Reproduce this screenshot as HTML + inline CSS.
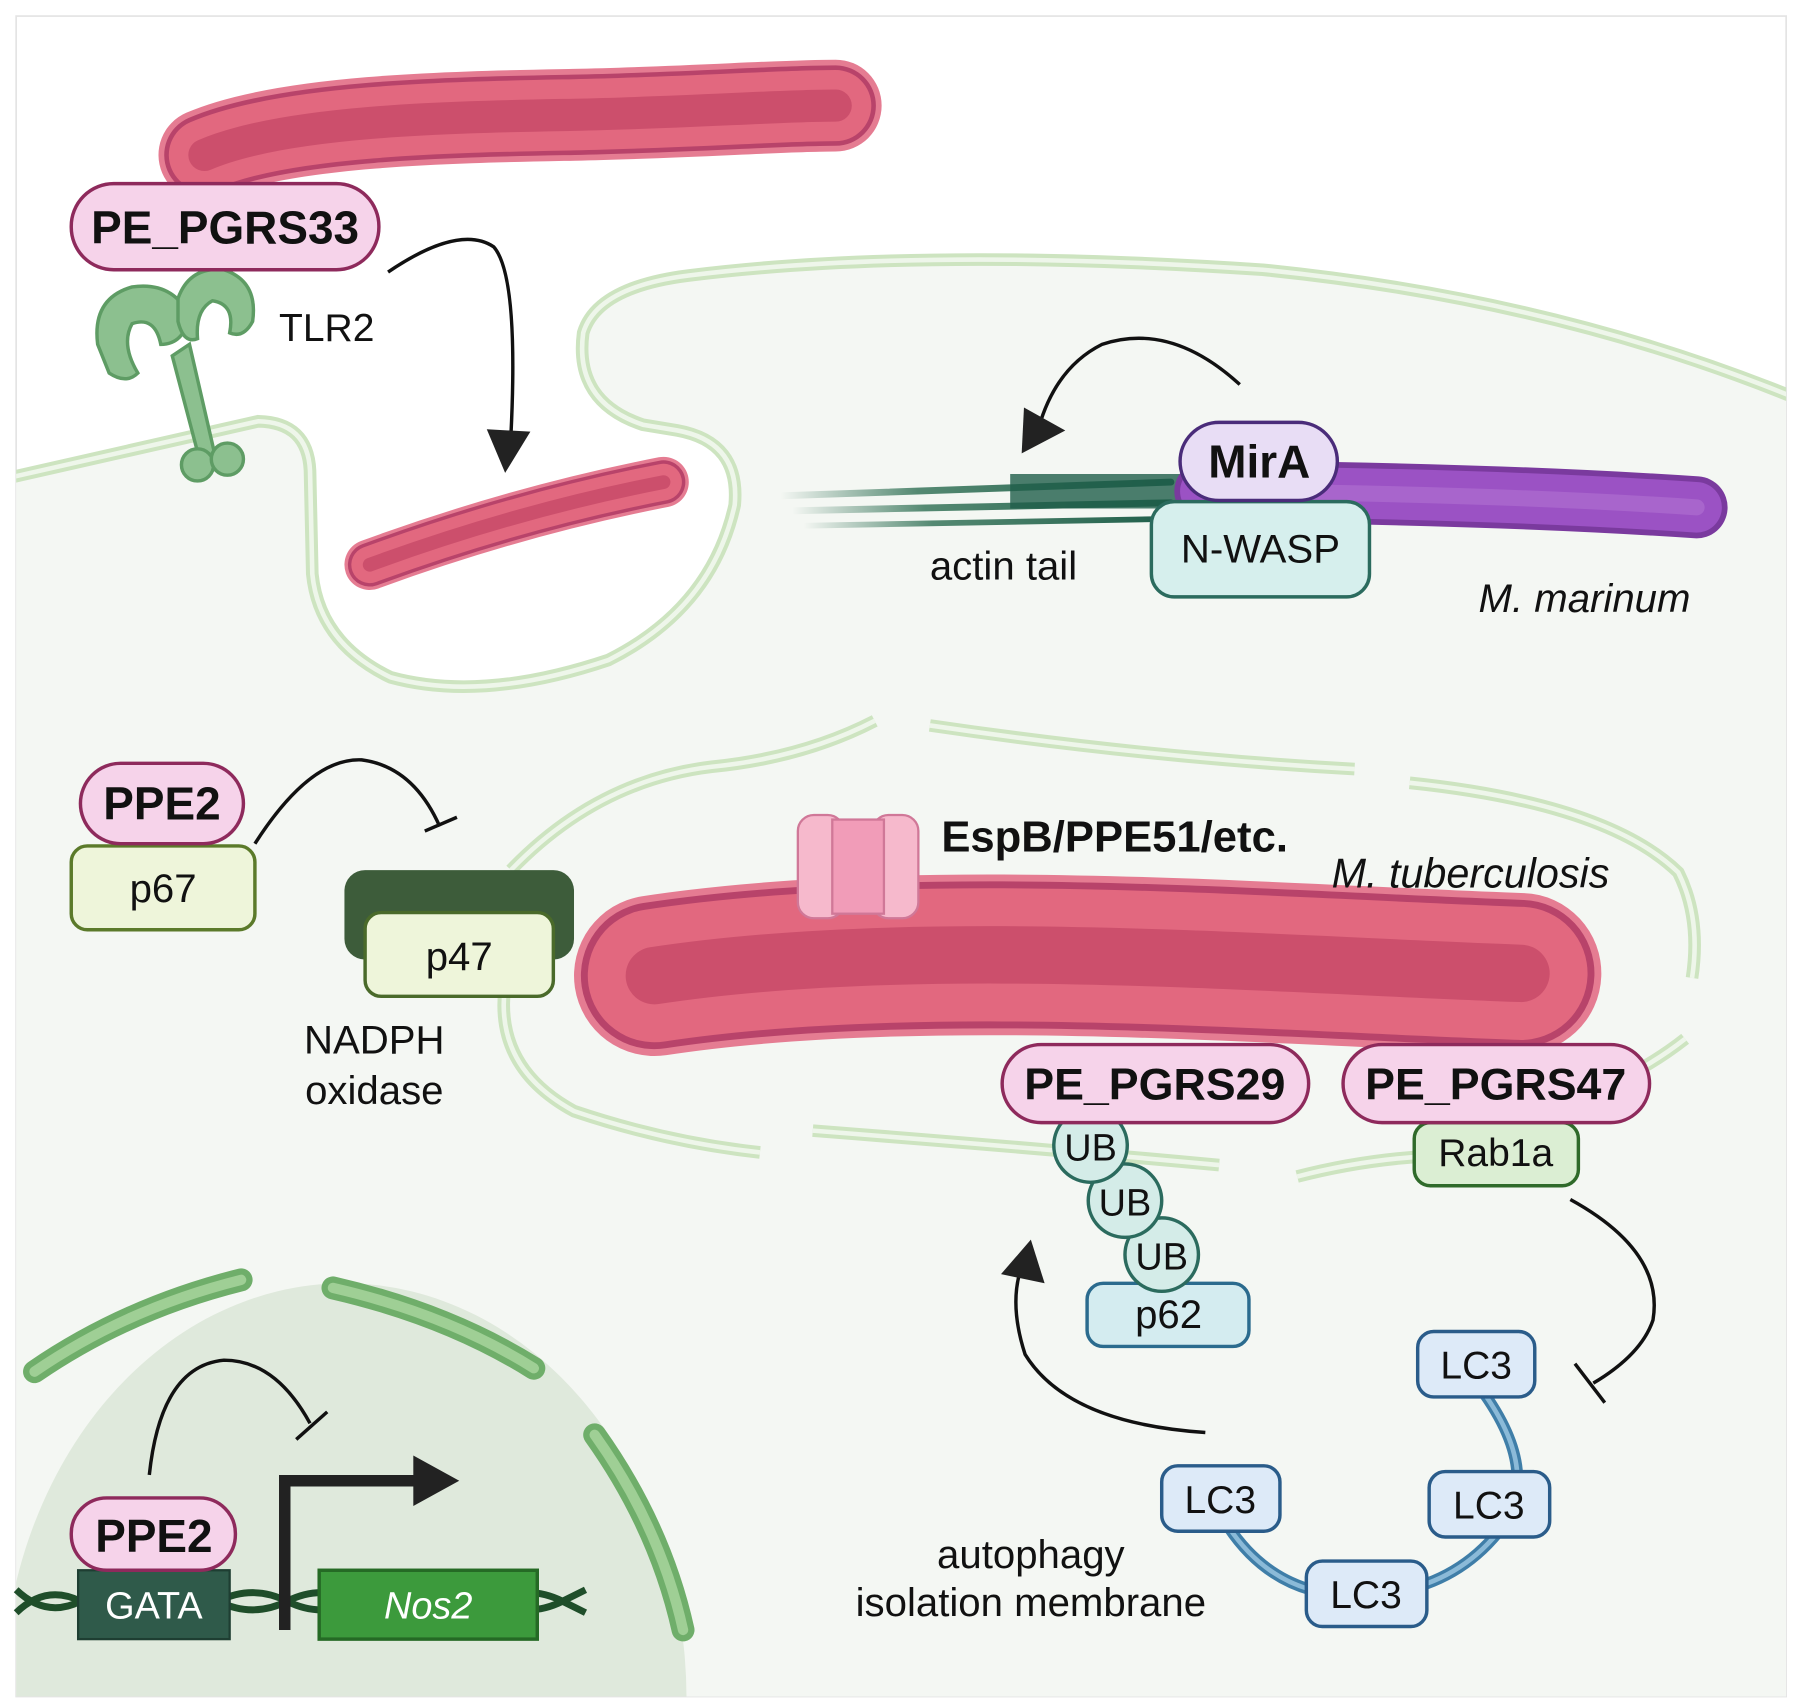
<!DOCTYPE html>
<html><head><meta charset="utf-8"><style>
html,body{margin:0;padding:0;background:#fff;overflow:hidden;width:1800px;height:1708px;}
svg{display:block;}
text{font-family:"Liberation Sans",Arial,sans-serif;}
</style></head><body>
<svg width="1800" height="1708" viewBox="0 0 1568 1488" xmlns="http://www.w3.org/2000/svg">
<defs>
<clipPath id="frame"><rect x="14" y="14" width="1542" height="1464"/></clipPath>
<linearGradient id="actin" x1="0" x2="1" y1="0" y2="0">
<stop offset="0" stop-color="#2d6e52" stop-opacity="0"/>
<stop offset="0.35" stop-color="#2d6e52" stop-opacity="0.8"/>
<stop offset="1" stop-color="#1f5e4a"/>
</linearGradient>
</defs>
<rect x="0" y="0" width="1568" height="1488" fill="#fff"/>
<rect x="14" y="14" width="1542" height="1464" fill="#fff" stroke="#e4e4e4" stroke-width="1.5"/>
<g clip-path="url(#frame)">
<path d="M0,418 L225,367 Q268,368 270,410 L272,500 Q278,560 340,590 Q420,612 530,575 Q620,530 640,440 Q645,385 590,375 L560,370 Q500,350 508,290 Q520,250 600,240 Q800,215 1100,235 Q1350,260 1560,345 L1568,1488 L0,1488 Z" fill="#f4f7f3"/>
<path d="M0,418 L225,367 Q268,368 270,410 L272,500 Q278,560 340,590 Q420,612 530,575 Q620,530 640,440 Q645,385 590,375 L560,370 Q500,350 508,290 Q520,250 600,240 Q800,215 1100,235 Q1350,260 1560,345" fill="none" stroke="#cde4c0" stroke-width="11"/>
<path d="M0,418 L225,367 Q268,368 270,410 L272,500 Q278,560 340,590 Q420,612 530,575 Q620,530 640,440 Q645,385 590,375 L560,370 Q500,350 508,290 Q520,250 600,240 Q800,215 1100,235 Q1350,260 1560,345" fill="none" stroke="#eef6ea" stroke-width="4"/>

<ellipse cx="300" cy="1480" rx="298" ry="362" fill="#dfe9dc"/>
<g fill="none" stroke-linecap="round">
<path d="M30,1195 Q110,1140 210,1115" stroke="#6fae6a" stroke-width="20"/>
<path d="M30,1195 Q110,1140 210,1115" stroke="#9fcf95" stroke-width="9"/>
<path d="M290,1122 Q390,1145 465,1192" stroke="#6fae6a" stroke-width="20"/>
<path d="M290,1122 Q390,1145 465,1192" stroke="#9fcf95" stroke-width="9"/>
<path d="M518,1250 Q575,1330 595,1420" stroke="#6fae6a" stroke-width="20"/>
<path d="M518,1250 Q575,1330 595,1420" stroke="#9fcf95" stroke-width="9"/>
</g>
</g>

<g fill="none" stroke-linecap="butt">
<g stroke="#cde4c0" stroke-width="11">
<path d="M445,758 Q520,680 620,668 Q700,660 762,628"/>
<path d="M810,632 Q1000,660 1180,670"/>
<path d="M1228,682 Q1400,700 1462,760 Q1482,800 1474,852"/>
<path d="M1468,905 Q1430,935 1378,955"/>
<path d="M1130,1025 Q1180,1012 1232,1008"/>
<path d="M708,985 Q900,1000 1062,1015"/>
<path d="M440,858 Q430,930 500,968 Q580,995 662,1004"/>
</g>
<g stroke="#eef6ea" stroke-width="4">
<path d="M445,758 Q520,680 620,668 Q700,660 762,628"/>
<path d="M810,632 Q1000,660 1180,670"/>
<path d="M1228,682 Q1400,700 1462,760 Q1482,800 1474,852"/>
<path d="M1468,905 Q1430,935 1378,955"/>
<path d="M1130,1025 Q1180,1012 1232,1008"/>
<path d="M708,985 Q900,1000 1062,1015"/>
<path d="M440,858 Q430,930 500,968 Q580,995 662,1004"/>
</g>
</g>

<g fill="none" stroke-linecap="round">
<path d="M178,135 C250,104 400,102 500,100 S680,92 728,92" stroke="#e57c92" stroke-width="80"/>
<path d="M178,135 C250,104 400,102 500,100 S680,92 728,92" stroke="#b8436a" stroke-width="70"/>
<path d="M178,135 C250,104 400,102 500,100 S680,92 728,92" stroke="#e2687f" stroke-width="62"/>
<path d="M178,135 C250,104 400,102 500,100 S680,92 728,92" stroke="#cc4f6c" stroke-width="28"/>

<path d="M322,492 Q450,445 578,420" stroke="#e57c92" stroke-width="44"/>
<path d="M322,492 Q450,445 578,420" stroke="#b8436a" stroke-width="38"/>
<path d="M322,492 Q450,445 578,420" stroke="#e2687f" stroke-width="32"/>
<path d="M322,492 Q450,445 578,420" stroke="#cc4f6c" stroke-width="12"/>

<path d="M570,850 C800,815 1100,840 1325,848" stroke="#e57c92" stroke-width="140"/>
<path d="M570,850 C800,815 1100,840 1325,848" stroke="#b8436a" stroke-width="128"/>
<path d="M570,850 C800,815 1100,840 1325,848" stroke="#e2687f" stroke-width="116"/>
<path d="M570,850 C800,815 1100,840 1325,848" stroke="#cc4f6c" stroke-width="50"/>

<path d="M680,432 L1020,420" stroke="url(#actin)" stroke-width="6"/>
<path d="M690,445 L1020,438" stroke="url(#actin)" stroke-width="6"/>
<path d="M700,458 L1020,452" stroke="url(#actin)" stroke-width="5"/>
<path d="M730,412 L1020,412" stroke="url(#actin)" stroke-width="4"/>
<path d="M880,428 L1030,428" stroke="#1f5e4a" stroke-width="30" stroke-opacity="0.8" stroke-linecap="butt"/>

<path d="M1050,428 Q1300,430 1478,442" stroke="#7a3a9e" stroke-width="54"/>
<path d="M1050,428 Q1300,430 1478,442" stroke="#9b52c4" stroke-width="44"/>
<path d="M1050,428 Q1300,430 1478,442" stroke="#a865cc" stroke-width="14"/>
</g>

<g stroke="#d07898" stroke-width="2" fill="#f6b9cc">
<rect x="695" y="710" width="40" height="90" rx="14"/>
<rect x="760" y="710" width="40" height="90" rx="14"/>
<rect x="725" y="714" width="45" height="82" fill="#f19cb8"/>
</g>

<g fill="#8cc08f" stroke="#5e9c64" stroke-width="3">
<path d="M85,300 Q80,260 115,250 Q150,245 165,275 Q160,300 140,300 Q135,275 115,282 Q105,300 120,325 Q110,335 95,325 Z"/>
<path d="M155,260 Q165,232 195,235 Q225,245 220,280 Q212,295 200,290 Q205,265 185,262 Q170,270 172,295 Q160,300 155,280 Z"/>
<path d="M165,300 L188,400 L175,405 L150,310 Z"/>
<circle cx="172" cy="405" r="14"/><circle cx="198" cy="400" r="14"/>
</g>

<g fill="none" stroke="#1f4e2a" stroke-width="6">
<path d="M14,1385 Q40,1410 70,1395 T130,1395 T190,1395 T250,1395 T310,1395 T370,1395 T430,1395 T490,1395 L510,1405"/>
<path d="M14,1405 Q40,1380 70,1395 T130,1395 T190,1395 T250,1395 T310,1395 T370,1395 T430,1395 T490,1395 L510,1385"/>
</g>
<rect x="68" y="1368" width="132" height="60" fill="#2f5a4a" stroke="#1e3e32" stroke-width="2"/>
<text x="134" y="1410" font-size="33" fill="#fff" text-anchor="middle">GATA</text>
<rect x="278" y="1368" width="190" height="60" fill="#3c9a3c" stroke="#256a25" stroke-width="3"/>
<text x="373" y="1410" font-size="33" fill="#fff" text-anchor="middle" font-style="italic">Nos2</text>
<path d="M248,1420 L248,1290 L365,1290" fill="none" stroke="#222" stroke-width="10"/>
<path d="M360,1268 L400,1290 L360,1312 Z" fill="#222"/>

<g fill="none" stroke="#111" stroke-width="3">
<path d="M338,237 Q400,195 430,215 Q452,240 445,380"/>
<path d="M1080,335 Q1020,280 960,300 Q920,320 905,372"/>
<path d="M222,735 Q270,660 315,662 Q360,668 383,720"/>
<path d="M370,724 L398,712"/>
<path d="M1050,1248 Q930,1240 893,1180 Q880,1140 888,1110"/>
<path d="M1368,1045 Q1450,1090 1440,1150 Q1430,1180 1388,1205"/>
<path d="M1372,1188 L1398,1222"/>
<path d="M130,1285 Q140,1190 195,1185 Q240,1185 270,1240"/>
<path d="M258,1254 L285,1230"/>
</g>
<path d="M424,374 L462,376 L440,412 Z" fill="#222"/>
<path d="M890,395 L892,355 L928,375 Z" fill="#222"/>
<path d="M872,1110 L898,1080 L910,1118 Z" fill="#222"/>

<rect x="300" y="758" width="200" height="78" rx="18" fill="#3d5c3a"/>
<rect x="318" y="795" width="164" height="73" rx="14" fill="#eef5da" stroke="#4a6a2a" stroke-width="3"/>
<text x="400" y="845" font-size="35" text-anchor="middle" fill="#111">p47</text>
<text x="326" y="918" font-size="35" text-anchor="middle" fill="#111">NADPH</text>
<text x="326" y="962" font-size="35" text-anchor="middle" fill="#111">oxidase</text>

<rect x="62" y="737" width="160" height="73" rx="14" fill="#eef5da" stroke="#5b7a2a" stroke-width="3"/>
<text x="142" y="786" font-size="35" text-anchor="middle" fill="#111">p67</text>
<rect x="70" y="665" width="142" height="70" rx="35" fill="#f6d3ea" stroke="#8e2a5c" stroke-width="3"/>
<text x="141" y="714" font-size="40" font-weight="bold" text-anchor="middle" fill="#111">PPE2</text>

<rect x="62" y="160" width="268" height="75" rx="37" fill="#f6d3ea" stroke="#8e2a5c" stroke-width="3"/>
<text x="196" y="212" font-size="40" font-weight="bold" text-anchor="middle" fill="#111">PE_PGRS33</text>
<text x="243" y="297" font-size="34" fill="#111">TLR2</text>

<rect x="1003" y="437" width="190" height="83" rx="20" fill="#d6efed" stroke="#2b6b5e" stroke-width="3"/>
<text x="1098" y="490" font-size="35" text-anchor="middle" fill="#111">N-WASP</text>
<rect x="1028" y="368" width="137" height="68" rx="34" fill="#e8ddf5" stroke="#4a2c7a" stroke-width="3"/>
<text x="1097" y="416" font-size="40" font-weight="bold" text-anchor="middle" fill="#111">MirA</text>
<text x="810" y="505" font-size="35" fill="#111">actin tail</text>
<text x="1288" y="533" font-size="35" font-style="italic" fill="#111">M. marinum</text>

<text x="820" y="742" font-size="38" font-weight="bold" fill="#111">EspB/PPE51/etc.</text>
<text x="1160" y="773" font-size="36" font-style="italic" fill="#111">M. tuberculosis</text>

<rect x="947" y="1118" width="141" height="55" rx="14" fill="#d4ecf0" stroke="#2b6b8e" stroke-width="3"/>
<text x="1018" y="1157" font-size="35" text-anchor="middle" fill="#111">p62</text>
<g fill="#d4ece8" stroke="#2b6b5e" stroke-width="3">
<circle cx="1012" cy="1093" r="32"/>
<circle cx="980" cy="1046" r="32"/>
<circle cx="950" cy="998" r="32"/>
</g>
<text x="1012" y="1106" font-size="33" text-anchor="middle" fill="#111">UB</text>
<text x="980" y="1059" font-size="33" text-anchor="middle" fill="#111">UB</text>
<text x="950" y="1011" font-size="33" text-anchor="middle" fill="#111">UB</text>
<rect x="873" y="910" width="267" height="68" rx="34" fill="#f6d3ea" stroke="#8e2a5c" stroke-width="3"/>
<text x="1006" y="958" font-size="39" font-weight="bold" text-anchor="middle" fill="#111">PE_PGRS29</text>

<rect x="1232" y="978" width="143" height="55" rx="14" fill="#dbeed3" stroke="#2f6a2a" stroke-width="3"/>
<text x="1303" y="1016" font-size="34" text-anchor="middle" fill="#111">Rab1a</text>
<rect x="1170" y="910" width="267" height="68" rx="34" fill="#f6d3ea" stroke="#8e2a5c" stroke-width="3"/>
<text x="1303" y="958" font-size="39" font-weight="bold" text-anchor="middle" fill="#111">PE_PGRS47</text>

<path d="M1070,1330 Q1110,1390 1180,1390 Q1260,1390 1305,1335 Q1345,1285 1290,1210" fill="none" stroke="#3f7ea8" stroke-width="10"/>
<path d="M1070,1330 Q1110,1390 1180,1390 Q1260,1390 1305,1335 Q1345,1285 1290,1210" fill="none" stroke="#8bbad8" stroke-width="4"/>
<g fill="#ddeaf8" stroke="#2a5c8a" stroke-width="3">
<rect x="1235" y="1160" width="102" height="57" rx="14"/>
<rect x="1245" y="1282" width="105" height="57" rx="14"/>
<rect x="1138" y="1360" width="105" height="57" rx="14"/>
<rect x="1012" y="1277" width="103" height="57" rx="14"/>
</g>
<g font-size="34" text-anchor="middle" fill="#111">
<text x="1286" y="1201">LC3</text>
<text x="1297" y="1323">LC3</text>
<text x="1190" y="1401">LC3</text>
<text x="1063" y="1318">LC3</text>
<text x="898" y="1366" font-size="35">autophagy</text>
<text x="898" y="1408" font-size="35">isolation membrane</text>
</g>

<rect x="62" y="1305" width="143" height="63" rx="31" fill="#f6d3ea" stroke="#8e2a5c" stroke-width="3"/>
<text x="134" y="1352" font-size="40" font-weight="bold" text-anchor="middle" fill="#111">PPE2</text>
</svg>
</body></html>
